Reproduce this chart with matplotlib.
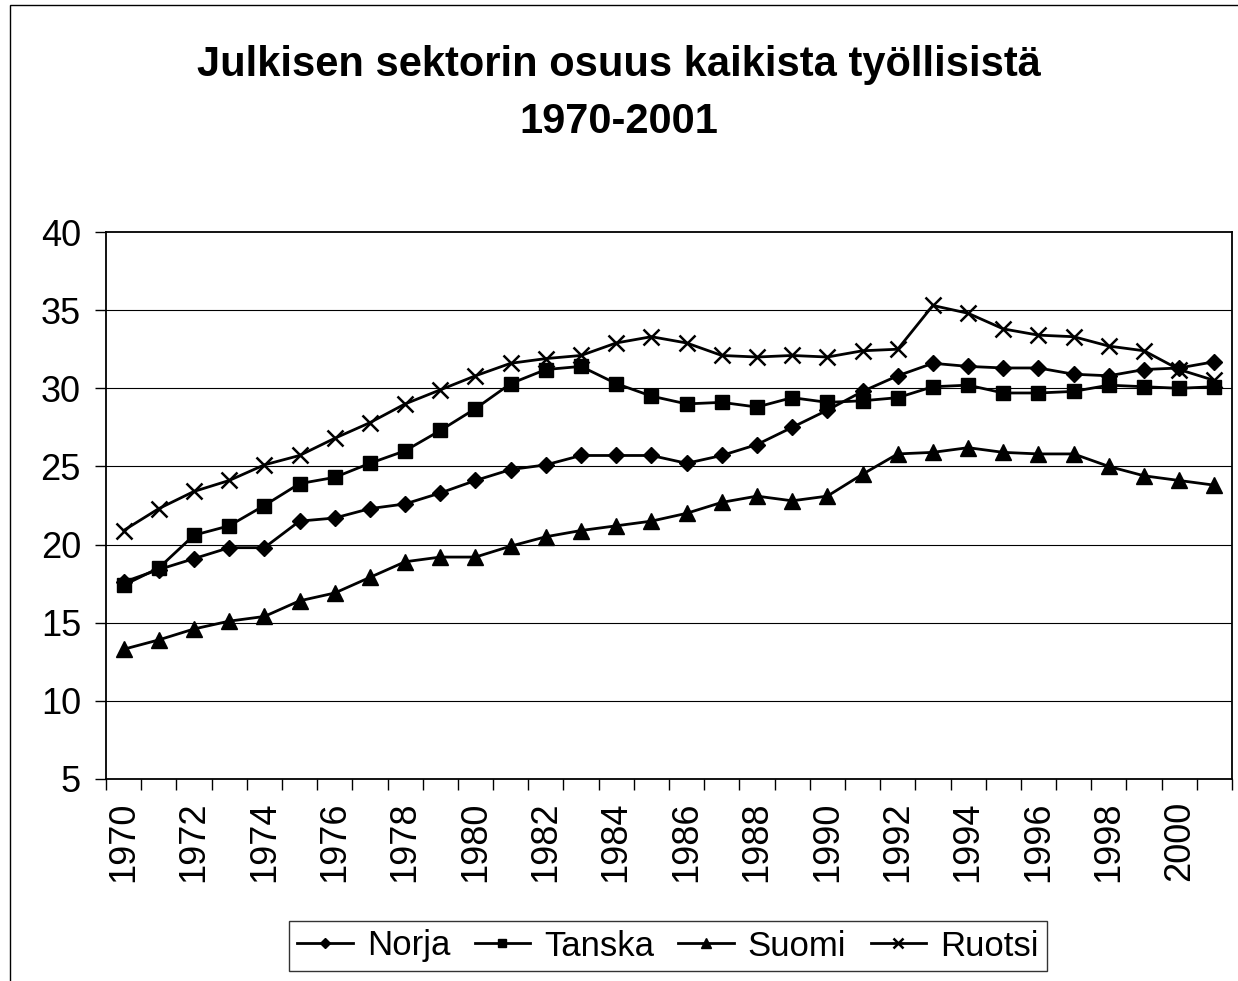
import numpy as np
import matplotlib
matplotlib.use("Agg")
from matplotlib import pyplot as plt
from matplotlib.patches import Rectangle

plt.rcParams['font.family'] = ['Liberation Sans', 'DejaVu Sans']

years = list(range(1970, 2002))
norja = [17.6, 18.4, 19.1, 19.8, 19.8, 21.5, 21.7, 22.3, 22.6, 23.3,
         24.1, 24.8, 25.1, 25.7, 25.7, 25.7, 25.2, 25.7, 26.4, 27.5,
         28.6, 29.8, 30.8, 31.6, 31.4, 31.3, 31.3, 30.9, 30.8, 31.2,
         31.3, 31.7]
tanska = [17.4, 18.5, 20.6, 21.2, 22.5, 23.9, 24.3, 25.2, 26.0, 27.3,
          28.7, 30.3, 31.2, 31.4, 30.3, 29.5, 29.0, 29.1, 28.8, 29.4,
          29.1, 29.2, 29.4, 30.1, 30.2, 29.7, 29.7, 29.8, 30.2, 30.1,
          30.0, 30.1]
suomi = [13.3, 13.9, 14.6, 15.1, 15.4, 16.4, 16.9, 17.9, 18.9, 19.2,
         19.2, 19.9, 20.5, 20.9, 21.2, 21.5, 22.0, 22.7, 23.1, 22.8,
         23.1, 24.5, 25.8, 25.9, 26.2, 25.9, 25.8, 25.8, 25.0, 24.4,
         24.1, 23.8]
ruotsi = [20.9, 22.3, 23.4, 24.1, 25.1, 25.7, 26.8, 27.8, 29.0, 29.9,
          30.8, 31.6, 31.9, 32.1, 32.9, 33.3, 32.9, 32.1, 32.0, 32.1,
          32.0, 32.4, 32.5, 35.3, 34.8, 33.8, 33.4, 33.3, 32.7, 32.4,
          31.2, 30.5]

series = [("Norja", norja, "D", 8.5), ("Tanska", tanska, "s", 9.5),
          ("Suomi", suomi, "^", 11), ("Ruotsi", ruotsi, "x", 11)]

W, H = 1238, 981
fig = plt.figure(figsize=(W / 100, H / 100), dpi=100)
ax = fig.add_axes([106 / W, 1 - 779 / H, (1232 - 106) / W, (779 - 232) / H])

x = np.arange(len(years))
for name, vals, mk, ms in series:
    ax.plot(x, vals, color="black", lw=2, marker=mk, ms=ms,
            mew=1.8 if mk == "x" else 1, label=name)

ax.set_xlim(-0.5, len(years) - 0.5)
ax.set_ylim(5, 40)
ax.set_yticks(range(5, 41, 5))
for yv in range(10, 40, 5):
    ax.axhline(yv, color="black", lw=0.8, zorder=0)

# category ticks between years, labels every second year
ax.set_xticks(np.arange(-0.5, len(years), 1.0))
ax.set_xticklabels([])
ax.set_xticks(x[::2], minor=True)
ax.set_xticklabels([str(y) for y in years[::2]], minor=True, rotation=90,
                   fontsize=26)
ax.tick_params(axis="x", which="major", direction="out", length=8, width=1)
ax.tick_params(axis="x", which="minor", length=0, pad=16)
ax.tick_params(axis="y", direction="out", length=8, width=1, labelsize=26,
               pad=10)
for s in ax.spines.values():
    s.set_color("black")
    s.set_linewidth(1.3)

fig.text(0.5, 1 - 65 / H, "Julkisen sektorin osuus kaikista työllisistä",
         ha="center", va="center", fontsize=30, fontweight="bold")
fig.text(0.5, 1 - 122 / H, "1970-2001", ha="center", va="center",
         fontsize=30, fontweight="bold")

leg = fig.legend(loc="center", bbox_to_anchor=(668 / W, 1 - 946 / H), ncol=4,
                 fontsize=25, frameon=True, fancybox=False, markerscale=0.65,
                 handlelength=1.6, handletextpad=0.4, columnspacing=0.7,
                 borderpad=0.25, borderaxespad=0)
leg.get_frame().set_edgecolor("black")
leg.get_frame().set_linewidth(1)

# outer chart-area border (cropped on right and bottom)
fig.patches.append(Rectangle((10 / W, -0.1), 2, 1 - 5 / H + 0.1,
                             transform=fig.transFigure, fill=False,
                             edgecolor="black", lw=1))

fig.savefig("out.png", dpi=100)
